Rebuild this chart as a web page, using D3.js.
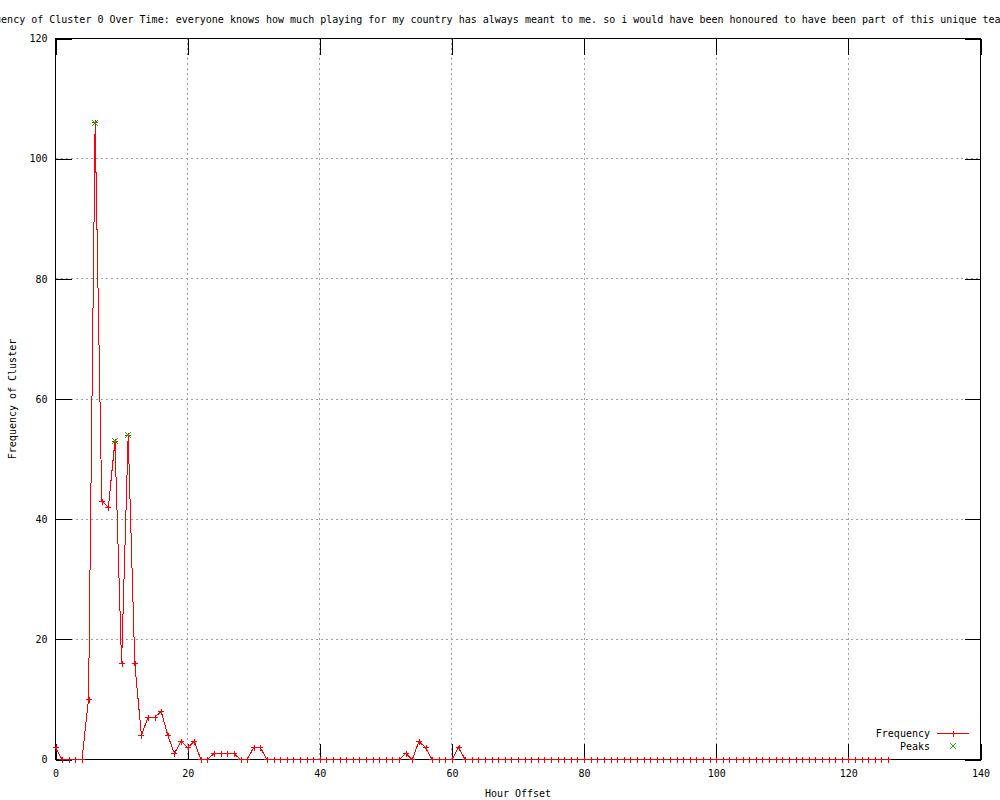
<!DOCTYPE html>
<html>
<head>
<meta charset="utf-8">
<script src="https://cdn.jsdelivr.net/npm/d3@7"></script>
<style>
  body { margin: 0; background: #fff; }
  svg text { font-family: "DejaVu Sans Mono", "Liberation Mono", monospace; font-size: 10px; fill: #000; }
</style>
</head>
<body>
<svg id="chart" width="1000" height="800"></svg>
<script>
"use strict";
// data
var title = "Frequency of Cluster 0 Over Time: everyone knows how much playing for my country has always meant to me. so i would have been honoured to have been part of this unique team.";
var xLabel = "Hour Offset";
var yLabel = "Frequency of Cluster";
var hours = d3.range(0, 127);
var frequency = [
    2, 0, 0, 0, 0, 10, 106, 43, 42, 53,
    16, 54, 16, 4, 7, 7, 8, 4, 1, 3,
    2, 3, 0, 0, 1, 1, 1, 1, 0, 0,
    2, 2, 0, 0, 0, 0, 0, 0, 0, 0,
    0, 0, 0, 0, 0, 0, 0, 0, 0, 0,
    0, 0, 0, 1, 0, 3, 2, 0, 0, 0,
    0, 2, 0, 0, 0, 0, 0, 0, 0, 0,
    0, 0, 0, 0, 0, 0, 0, 0, 0, 0,
    0, 0, 0, 0, 0, 0, 0, 0, 0, 0,
    0, 0, 0, 0, 0, 0, 0, 0, 0, 0,
    0, 0, 0, 0, 0, 0, 0, 0, 0, 0,
    0, 0, 0, 0, 0, 0, 0, 0, 0, 0,
    0, 0, 0, 0, 0, 0, 0
];
var peakHours = [6, 9, 11];
var peakValues = [106, 53, 54];
var xTicks = [0, 20, 40, 60, 80, 100, 120, 140];
var yTicks = [0, 20, 40, 60, 80, 100, 120];

var red = "#ff0000";
var green = "rgb(0,192,0)";

var svg = d3.select("#chart");

var x = d3.scaleLinear().domain([0, 140]).range([55.5, 980.5]);
var y = d3.scaleLinear().domain([0, 120]).range([759.5, 38.5]);

var plusPath = "M-3,0H3M0,-3V3";
var crossPath = "M-3,-3L3,3M-3,3L3,-3";

// grid (dotted gray)
var grid = svg.append("g").attr("shape-rendering", "crispEdges");
grid.selectAll("line.gx")
    .data(xTicks.filter(function (t) { return t > 0 && t < 140; }))
    .enter().append("line")
    .attr("x1", function (d) { return x(d); })
    .attr("x2", function (d) { return x(d); })
    .attr("y1", y(0))
    .attr("y2", y(120))
    .style("stroke", "#a0a0a0")
    .style("stroke-dasharray", "2,3");
grid.selectAll("line.gy")
    .data(yTicks.filter(function (t) { return t > 0 && t < 120; }))
    .enter().append("line")
    .attr("x1", x(0))
    .attr("x2", x(140))
    .attr("y1", function (d) { return y(d); })
    .attr("y2", function (d) { return y(d); })
    .style("stroke", "#a0a0a0")
    .style("stroke-dasharray", "2,3");

// axes, ticks point inwards like gnuplot, mirrored on top/right
function styleAxis(g) {
    g.attr("shape-rendering", "crispEdges");
    g.select(".domain").remove();
    g.selectAll(".tick line").style("stroke", "#000");
    g.selectAll(".tick text").attr("font-family", null).attr("font-size", null);
}
svg.append("g")
    .attr("transform", "translate(0," + y(0) + ")")
    .call(d3.axisBottom(x).tickValues(xTicks).tickSize(-16).tickPadding(10).tickFormat(d3.format("d")))
    .call(styleAxis);
svg.append("g")
    .attr("transform", "translate(0," + y(120) + ")")
    .call(d3.axisTop(x).tickValues(xTicks).tickSize(-16).tickFormat(""))
    .call(styleAxis);
svg.append("g")
    .attr("transform", "translate(" + x(0) + ",0)")
    .call(d3.axisLeft(y).tickValues(yTicks).tickSize(-16).tickPadding(8).tickFormat(d3.format("d")))
    .call(styleAxis);
svg.append("g")
    .attr("transform", "translate(" + x(140) + ",0)")
    .call(d3.axisRight(y).tickValues(yTicks).tickSize(-16).tickFormat(""))
    .call(styleAxis);

// border
svg.append("rect")
    .attr("x", x(0))
    .attr("y", y(120))
    .attr("width", x(140) - x(0))
    .attr("height", y(0) - y(120))
    .attr("shape-rendering", "crispEdges")
    .style("fill", "none")
    .style("stroke", "#000");

// frequency series
var series = hours.map(function (h, i) { return { h: h, v: frequency[i] }; });
var line = d3.line()
    .x(function (d) { return x(d.h); })
    .y(function (d) { return y(d.v); });
svg.append("path")
    .datum(series)
    .attr("d", line)
    .attr("shape-rendering", "crispEdges")
    .style("fill", "none")
    .style("stroke", red);
svg.selectAll("path.pt")
    .data(series)
    .enter().append("path")
    .attr("class", "pt")
    .attr("transform", function (d) { return "translate(" + Math.round(x(d.h)) + "," + (Math.round(y(d.v) - 0.5) + 0.5) + ")"; })
    .attr("d", plusPath)
    .attr("shape-rendering", "crispEdges")
    .style("fill", "none")
    .style("stroke", red);

// peaks
var peaks = peakHours.map(function (h, i) { return { h: h, v: peakValues[i] }; });
svg.selectAll("path.peak")
    .data(peaks)
    .enter().append("path")
    .attr("class", "peak")
    .attr("transform", function (d) { return "translate(" + Math.round(x(d.h)) + "," + Math.round(y(d.v)) + ")"; })
    .attr("d", crossPath)
    .style("fill", "none")
    .style("stroke", green);

// legend
var legend = svg.append("g");
legend.append("text").attr("x", 930).attr("y", 733).attr("dy", "0.35em")
    .attr("text-anchor", "end").text("Frequency");
legend.append("line")
    .attr("x1", 937).attr("x2", 969).attr("y1", 733.5).attr("y2", 733.5)
    .attr("shape-rendering", "crispEdges")
    .style("stroke", red);
legend.append("path").attr("transform", "translate(953,733.5)").attr("d", plusPath)
    .attr("shape-rendering", "crispEdges").style("fill", "none").style("stroke", red);
legend.append("text").attr("x", 930).attr("y", 746).attr("dy", "0.35em")
    .attr("text-anchor", "end").text("Peaks");
legend.append("path").attr("transform", "translate(953,746)").attr("d", crossPath)
    .style("fill", "none").style("stroke", green);

// labels
svg.append("text").attr("x", -29).attr("y", 23).text(title);
svg.append("text")
    .attr("x", (x(0) + x(140)) / 2)
    .attr("y", 797)
    .attr("text-anchor", "middle")
    .text(xLabel);
svg.append("text")
    .attr("transform", "translate(16," + ((y(0) + y(120)) / 2) + ") rotate(-90)")
    .attr("text-anchor", "middle")
    .text(yLabel);
</script>
</body>
</html>
